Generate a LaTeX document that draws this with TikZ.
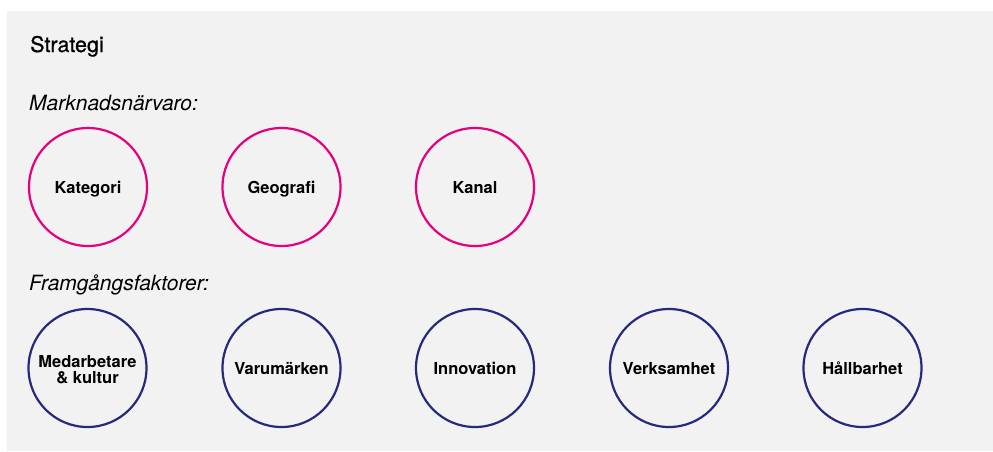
\documentclass[tikz,border=0pt]{standalone}
\usepackage{fontspec}
\setmainfont{TeX Gyre Heros}
\newfontfamily\medfont[FakeBold=0.8]{TeX Gyre Heros}
\definecolor{bggray}{HTML}{F2F2F2}
\definecolor{pinkc}{HTML}{E5007D}
\definecolor{navyc}{HTML}{262A7E}
\tikzset{
  circ/.style={circle, draw, line width=2.2pt, minimum size=118pt, inner sep=0pt},
  pinkcirc/.style={circ, draw=pinkc},
  navycirc/.style={circ, draw=navyc},
  lbl/.style={anchor=base, inner sep=0pt, align=center, text=black,
    font=\fontsize{16.5}{16.5}\selectfont\bfseries},
  heading/.style={anchor=base west, inner sep=0pt, font=\fontsize{21.5}{22}\selectfont\medfont},
  subhead/.style={anchor=base west, inner sep=0pt, font=\fontsize{21}{22}\selectfont\itshape},
}
\begin{document}
\begin{tikzpicture}[x=1pt,y=-1pt]
\useasboundingbox (0,0) rectangle (993,451);
\fill[bggray] (7,11) rectangle (993,451);
\node[heading] (title) at (30,52) {Strategi};
\node[subhead] (mark) at (29,110) {Marknadsnärvaro:};
\node[subhead] (fram) at (29,290) {Framgångsfaktorer:};
\node[pinkcirc] (kat) at (88,187) {};
\node[pinkcirc] (geo) at (281.5,187) {};
\node[pinkcirc] (kan) at (475,187) {};
\node[navycirc] (med) at (87.5,368) {};
\node[navycirc] (var) at (281.5,368) {};
\node[navycirc] (inn) at (475,368) {};
\node[navycirc] (ver) at (669,368) {};
\node[navycirc] (hal) at (862.5,368) {};
\node[lbl] (katt) at ([yshift=-6.5pt]kat.center) {Kategori};
\node[lbl] (geot) at ([yshift=-6.5pt]geo.center) {Geografi};
\node[lbl] (kant) at ([yshift=-6.5pt]kan.center) {Kanal};
\node[lbl] (medt) at ([yshift=-15.5pt]med.center) {Medarbetare\\\& kultur};
\node[lbl] (vart) at ([yshift=-6.5pt]var.center) {Varumärken};
\node[lbl] (innt) at ([yshift=-6.5pt]inn.center) {Innovation};
\node[lbl] (vert) at ([yshift=-6.5pt]ver.center) {Verksamhet};
\node[lbl] (halt) at ([yshift=-6.5pt]hal.center) {Hållbarhet};
\end{tikzpicture}
\end{document}
